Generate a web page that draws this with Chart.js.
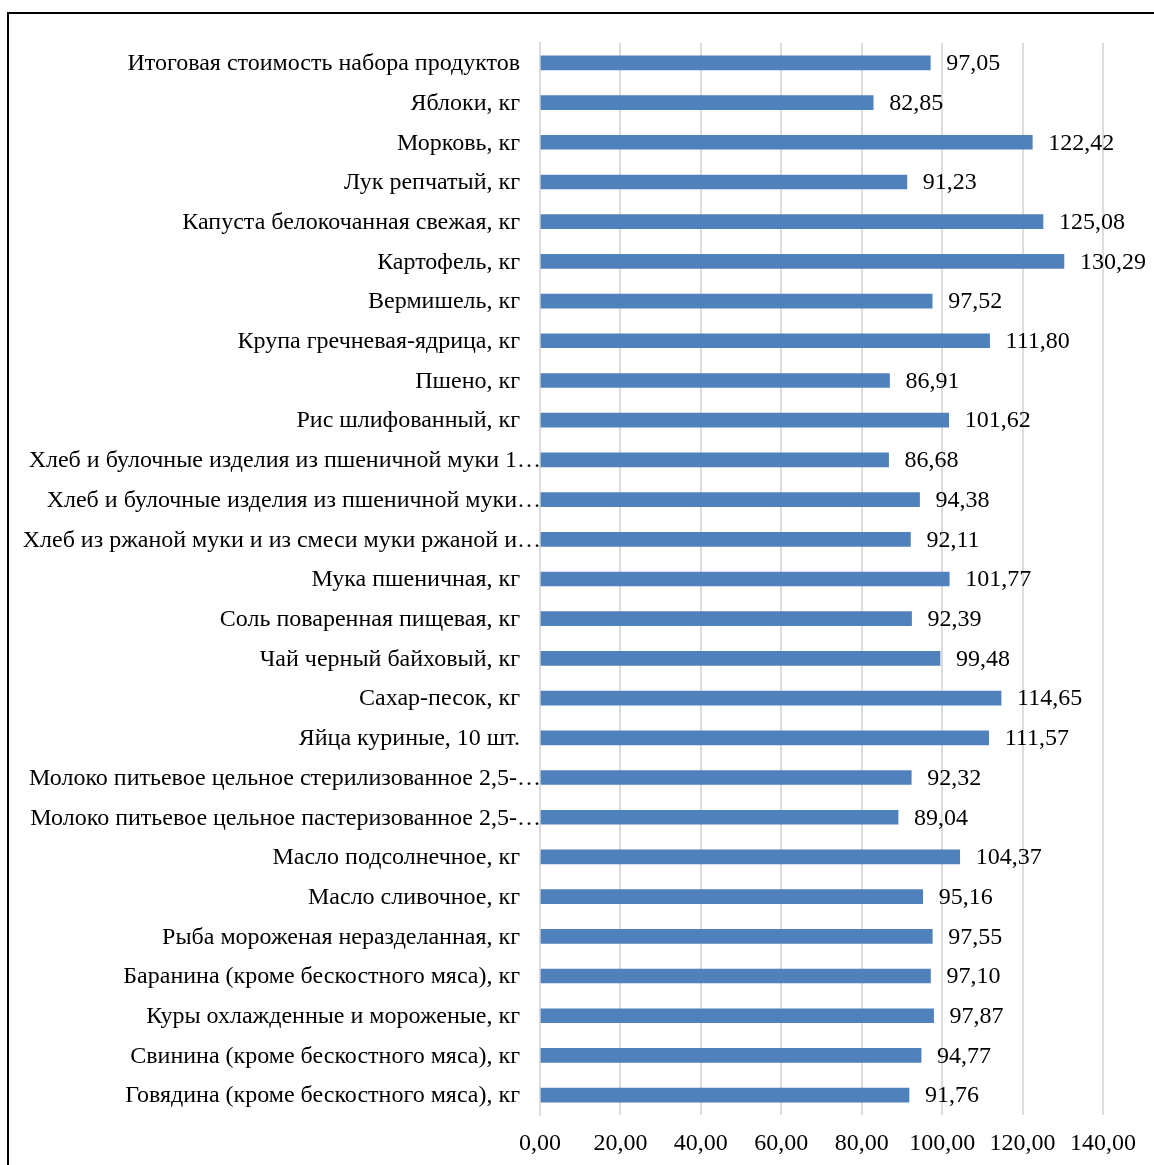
<!DOCTYPE html>
<html>
<head>
<meta charset="utf-8">
<script src="https://cdn.jsdelivr.net/npm/chart.js@4"></script>
<style>
    html, body { margin: 0; padding: 0; background: #fff; overflow: hidden; }
    #frame { position: absolute; left: 7px; top: 12px; width: 1300px; height: 1300px; border: 2px solid #000; }
    #wrap { position: absolute; left: 0; top: 0; width: 1154px; height: 1165px; }
</style>
</head>
<body>
<div id="frame"></div>
<div id="wrap"><canvas id="chart" width="1154" height="1165"></canvas></div>
<script>
const categories = [
    "Итоговая стоимость набора продуктов",
    "Яблоки, кг",
    "Морковь, кг",
    "Лук репчатый, кг",
    "Капуста белокочанная свежая, кг",
    "Картофель, кг",
    "Вермишель, кг",
    "Крупа гречневая-ядрица, кг",
    "Пшено, кг",
    "Рис шлифованный, кг",
    "Хлеб и булочные изделия из пшеничной муки 1…",
    "Хлеб и булочные изделия из пшеничной муки…",
    "Хлеб из ржаной муки и из смеси муки ржаной и…",
    "Мука пшеничная, кг",
    "Соль поваренная пищевая, кг",
    "Чай черный байховый, кг",
    "Сахар-песок, кг",
    "Яйца куриные, 10 шт.",
    "Молоко питьевое цельное стерилизованное 2,5-…",
    "Молоко питьевое цельное пастеризованное 2,5-…",
    "Масло подсолнечное, кг",
    "Масло сливочное, кг",
    "Рыба мороженая неразделанная, кг",
    "Баранина (кроме бескостного мяса), кг",
    "Куры охлажденные и мороженые, кг",
    "Свинина (кроме бескостного мяса), кг",
    "Говядина (кроме бескостного мяса), кг"
];

const values = [
    97.05, 82.85, 122.42, 91.23, 125.08, 130.29, 97.52, 111.80, 86.91, 101.62,
    86.68, 94.38, 92.11, 101.77, 92.39, 99.48, 114.65, 111.57, 92.32, 89.04,
    104.37, 95.16, 97.55, 97.10, 97.87, 94.77, 91.76
];

const xMin = 0;
const xMax = 140;
const xStep = 20;

const FONT = "'Liberation Serif', 'Times New Roman', serif";
const FONT_SIZE = 24;

function fmt(v) {
    return v.toFixed(2).replace(".", ",");
}

// category labels: cut ones run up to the axis, like in the original
const categoryLabels = {
    id: "categoryLabels",
    afterDraw(chart) {
        const ctx = chart.ctx;
        const yScale = chart.scales.y;
        ctx.save();
        ctx.font = FONT_SIZE + "px " + FONT;
        ctx.fillStyle = "#000";
        ctx.textAlign = "right";
        ctx.textBaseline = "middle";
        categories.forEach((label, i) => {
            const y = yScale.getPixelForValue(i);
            const x = label.endsWith("…") ? yScale.right + 1 : yScale.right - 20;
            ctx.fillText(label, x, y + 1);
        });
        ctx.restore();
    }
};

// value labels to the right of each bar
const valueLabels = {
    id: "valueLabels",
    afterDatasetsDraw(chart) {
        const ctx = chart.ctx;
        const meta = chart.getDatasetMeta(0);
        ctx.save();
        ctx.font = FONT_SIZE + "px " + FONT;
        ctx.fillStyle = "#000";
        ctx.textAlign = "left";
        ctx.textBaseline = "middle";
        meta.data.forEach((bar, i) => {
            ctx.fillText(fmt(values[i]), bar.x + 16, bar.y + 1);
        });
        ctx.restore();
    }
};

new Chart(document.getElementById("chart").getContext("2d"), {
    type: "bar",
    data: {
        labels: categories,
        datasets: [{
            data: values,
            backgroundColor: "#4f81bd",
            borderWidth: 0,
            barThickness: 14
        }]
    },
    options: {
        indexAxis: "y",
        responsive: false,
        animation: false,
        layout: { padding: { left: 0, right: 51, top: 43, bottom: 0 } },
        plugins: {
            legend: { display: false },
            tooltip: { enabled: false }
        },
        scales: {
            x: {
                min: xMin,
                max: xMax,
                ticks: {
                    stepSize: xStep,
                    padding: 14,
                    color: "#000",
                    font: { family: FONT, size: FONT_SIZE },
                    callback: v => fmt(v)
                },
                grid: { color: "#dcdcdc", lineWidth: 2, drawTicks: false },
                border: { display: false },
                afterFit: s => { s.height = 50; }
            },
            y: {
                ticks: { display: false },
                grid: { display: false, drawTicks: false },
                border: { display: true, color: "#dcdcdc", width: 2 },
                afterFit: s => { s.width = 540; }
            }
        }
    },
    plugins: [valueLabels, categoryLabels]
});
</script>
</body>
</html>
